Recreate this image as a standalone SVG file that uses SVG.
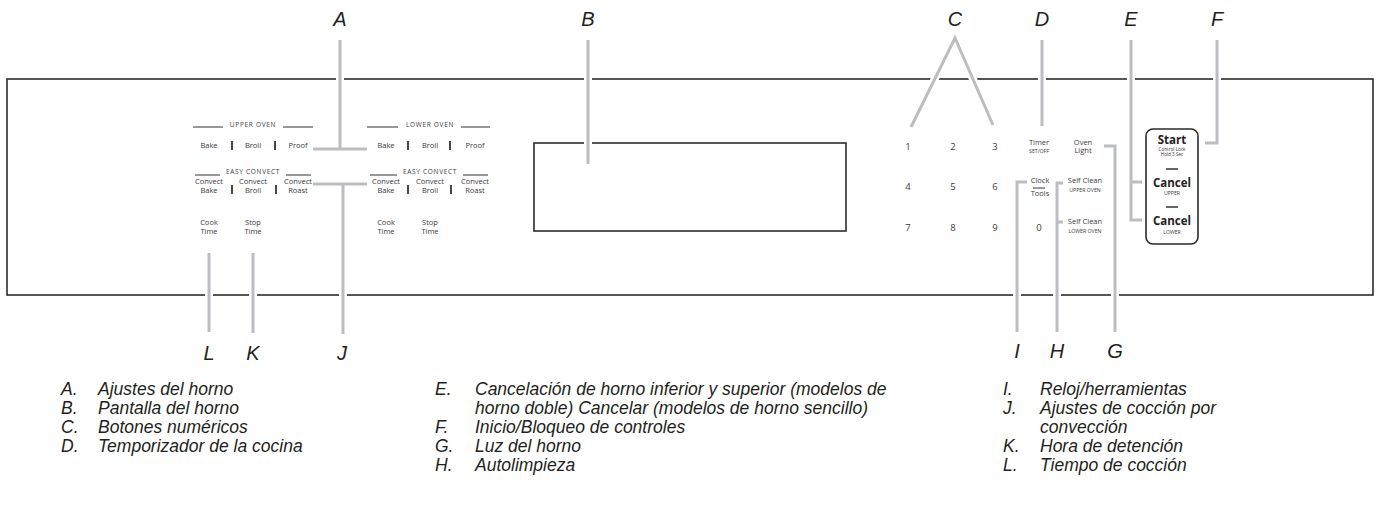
<svg xmlns="http://www.w3.org/2000/svg" width="1377" height="506" viewBox="0 0 1377 506">
<style>
.frame{fill:none;stroke:#2b2b2b;stroke-width:1.6}
.halo{fill:none;stroke:#fff;stroke-width:8;stroke-linecap:butt;stroke-linejoin:miter}
.ld{fill:none;stroke:#bcbdc0;stroke-width:3;stroke-linecap:butt;stroke-linejoin:miter}
.bt{font-family:"Open Sans","Liberation Sans",sans-serif;font-size:7.5px;fill:#3a3a3a;text-anchor:middle}
.hd{font-family:"Open Sans","Liberation Sans",sans-serif;font-size:6.5px;fill:#3a3a3a;text-anchor:middle;letter-spacing:0.7px}
.sm{font-family:"Open Sans","Liberation Sans",sans-serif;font-size:5.2px;fill:#3a3a3a;text-anchor:middle}
.dg{font-family:"Open Sans","Liberation Sans",sans-serif;font-size:9.5px;fill:#3a3a3a;text-anchor:middle}
.bg{font-family:"Open Sans","Liberation Sans",sans-serif;font-size:11.5px;font-weight:bold;fill:#222;text-anchor:middle}
.tn{font-family:"Open Sans","Liberation Sans",sans-serif;font-size:4.6px;fill:#333;text-anchor:middle}
.rule{stroke:#333;stroke-width:1}
.bar{stroke:#333;stroke-width:1.8}
.lbl{font-family:"Liberation Sans",Arial,sans-serif;font-style:italic;font-size:20px;fill:#231f20;text-anchor:middle}
.lg{font-family:"Liberation Sans",Arial,sans-serif;font-style:italic;font-size:17.5px;fill:#231f20}
</style>

<g id="panel">
<rect class="frame" x="7" y="79" width="1366" height="216"/>
</g>
<g id="display">
<rect class="frame" x="534" y="143" width="312" height="88"/>
</g>

<g id="connectors">
<path d="M340,40 V149 M313,149 H367" class="halo"/>
<path d="M340,40 V149 M313,149 H367" class="ld"/>
<path d="M588,40 V164" class="halo"/>
<path d="M588,40 V164" class="ld"/>
<path d="M911,127 L955,38 L993,125" class="halo"/>
<path d="M911,127 L955,38 L993,125" class="ld"/>
<path d="M1042,40 V126" class="halo"/>
<path d="M1042,40 V126" class="ld"/>
<path d="M1131,40 V220 H1142 M1131,182 H1142" class="halo"/>
<path d="M1131,40 V220 H1142 M1131,182 H1142" class="ld"/>
<path d="M1217,40 V143 H1205" class="halo"/>
<path d="M1217,40 V143 H1205" class="ld"/>
<path d="M1104,146 H1115 V332" class="halo"/>
<path d="M1104,146 H1115 V332" class="ld"/>
<path d="M1063,183 H1057 V332 M1057,222 H1063" class="halo"/>
<path d="M1063,183 H1057 V332 M1057,222 H1063" class="ld"/>
<path d="M1027,182 H1017 V332" class="halo"/>
<path d="M1027,182 H1017 V332" class="ld"/>
<path d="M313,184 H367 M343,184 V334" class="halo"/>
<path d="M313,184 H367 M343,184 V334" class="ld"/>
<path d="M253,253 V333" class="halo"/>
<path d="M253,253 V333" class="ld"/>
<path d="M209,253 V332" class="halo"/>
<path d="M209,253 V332" class="ld"/>
</g>

<g id="upper-oven">
<text class="hd" x="253" y="127">UPPER OVEN</text>
<line class="rule" x1="193" y1="127" x2="223" y2="127"/>
<line class="rule" x1="283" y1="127" x2="313" y2="127"/>
<text class="bt" x="209" y="148">Bake</text>
<text class="bt" x="253" y="148">Broil</text>
<text class="bt" x="298" y="148">Proof</text>
<line class="bar" x1="232" y1="141" x2="232" y2="150"/>
<line class="bar" x1="275" y1="141" x2="275" y2="150"/>
<text class="hd" x="253" y="174">EASY CONVECT</text>
<line class="rule" x1="195" y1="175" x2="220" y2="175"/>
<line class="rule" x1="286" y1="175" x2="311" y2="175"/>
<text class="bt" x="209" y="184">Convect</text><text class="bt" x="209" y="193">Bake</text>
<text class="bt" x="253" y="184">Convect</text><text class="bt" x="253" y="193">Broil</text>
<text class="bt" x="298" y="184">Convect</text><text class="bt" x="298" y="193">Roast</text>
<line class="bar" x1="232" y1="185" x2="232" y2="194"/>
<line class="bar" x1="276" y1="185" x2="276" y2="194"/>
<text class="bt" x="209" y="225">Cook</text><text class="bt" x="209" y="234">Time</text>
<text class="bt" x="253" y="225">Stop</text><text class="bt" x="253" y="234">Time</text>
</g>

<g id="lower-oven">
<text class="hd" x="430" y="127">LOWER OVEN</text>
<line class="rule" x1="367" y1="127" x2="398" y2="127"/>
<line class="rule" x1="461" y1="127" x2="490" y2="127"/>
<text class="bt" x="386" y="148">Bake</text>
<text class="bt" x="430" y="148">Broil</text>
<text class="bt" x="475" y="148">Proof</text>
<line class="bar" x1="408" y1="141" x2="408" y2="150"/>
<line class="bar" x1="450" y1="141" x2="450" y2="150"/>
<text class="hd" x="430" y="174">EASY CONVECT</text>
<line class="rule" x1="370" y1="175" x2="397" y2="175"/>
<line class="rule" x1="463" y1="175" x2="488" y2="175"/>
<text class="bt" x="386" y="184">Convect</text><text class="bt" x="386" y="193">Bake</text>
<text class="bt" x="430" y="184">Convect</text><text class="bt" x="430" y="193">Broil</text>
<text class="bt" x="475" y="184">Convect</text><text class="bt" x="475" y="193">Roast</text>
<line class="bar" x1="408" y1="185" x2="408" y2="194"/>
<line class="bar" x1="451" y1="185" x2="451" y2="194"/>
<text class="bt" x="386" y="225">Cook</text><text class="bt" x="386" y="234">Time</text>
<text class="bt" x="430" y="225">Stop</text><text class="bt" x="430" y="234">Time</text>
</g>

<g id="keypad">
<text class="dg" x="908" y="150">1</text>
<text class="dg" x="953" y="150">2</text>
<text class="dg" x="995" y="150">3</text>
<text class="dg" x="908" y="190">4</text>
<text class="dg" x="953" y="190">5</text>
<text class="dg" x="995" y="190">6</text>
<text class="dg" x="908" y="231">7</text>
<text class="dg" x="953" y="231">8</text>
<text class="dg" x="995" y="231">9</text>
<text class="dg" x="1039" y="231">0</text>
</g>

<g id="timer">
<text class="bt" x="1039" y="145">Timer</text>
<text class="sm" x="1039" y="153">SET/OFF</text>
</g>
<g id="oven-light">
<text class="bt" x="1083" y="145">Oven</text>
<text class="bt" x="1083" y="153">Light</text>
</g>
<g id="clock-tools">
<text class="bt" x="1040" y="183">Clock</text>
<line class="rule" x1="1033" y1="188" x2="1045" y2="188"/>
<text class="bt" x="1040" y="196">Tools</text>
</g>
<g id="self-clean-upper">
<text class="bt" x="1085" y="183">Self Clean</text>
<text class="sm" x="1085" y="192">UPPER OVEN</text>
</g>
<g id="self-clean-lower">
<text class="bt" x="1085" y="224">Self Clean</text>
<text class="sm" x="1085" y="233">LOWER OVEN</text>
</g>

<g id="start-cancel">
<rect class="frame" x="1146" y="129" width="52" height="115" rx="7"/>
<text class="bg" x="1172" y="144">Start</text>
<text class="tn" x="1172" y="151">Control Lock</text>
<text class="tn" x="1172" y="156">Hold 3 Sec</text>
<line class="bar" x1="1166" y1="169" x2="1178" y2="169" style="stroke-width:1.5"/>
<text class="bg" x="1172" y="187">Cancel</text>
<text class="sm" x="1172" y="195">UPPER</text>
<line class="bar" x1="1166" y1="207" x2="1178" y2="207" style="stroke-width:1.5"/>
<text class="bg" x="1172" y="225">Cancel</text>
<text class="sm" x="1172" y="234">LOWER</text>
</g>

<g id="labels">
<text class="lbl" x="340" y="26">A</text>
<text class="lbl" x="588" y="26">B</text>
<text class="lbl" x="955" y="26">C</text>
<text class="lbl" x="1042" y="26">D</text>
<text class="lbl" x="1131" y="26">E</text>
<text class="lbl" x="1217" y="26">F</text>
<text class="lbl" x="209" y="360">L</text>
<text class="lbl" x="253" y="360">K</text>
<text class="lbl" x="342" y="360">J</text>
<text class="lbl" x="1017" y="358">I</text>
<text class="lbl" x="1057" y="358">H</text>
<text class="lbl" x="1115" y="358">G</text>
</g>

<g id="legend">
<text class="lg" x="61" y="395">A.</text><text class="lg" x="98" y="395">Ajustes del horno</text>
<text class="lg" x="61" y="414">B.</text><text class="lg" x="98" y="414">Pantalla del horno</text>
<text class="lg" x="61" y="433">C.</text><text class="lg" x="98" y="433">Botones numéricos</text>
<text class="lg" x="61" y="452">D.</text><text class="lg" x="98" y="452">Temporizador de la cocina</text>
<text class="lg" x="435" y="395">E.</text><text class="lg" x="475" y="395">Cancelación de horno inferior y superior (modelos de</text>
<text class="lg" x="475" y="414">horno doble) Cancelar (modelos de horno sencillo)</text>
<text class="lg" x="435" y="433">F.</text><text class="lg" x="475" y="433">Inicio/Bloqueo de controles</text>
<text class="lg" x="435" y="452">G.</text><text class="lg" x="475" y="452">Luz del horno</text>
<text class="lg" x="435" y="471">H.</text><text class="lg" x="475" y="471">Autolimpieza</text>
<text class="lg" x="1003" y="395">I.</text><text class="lg" x="1040" y="395">Reloj/herramientas</text>
<text class="lg" x="1003" y="414">J.</text><text class="lg" x="1040" y="414">Ajustes de cocción por</text>
<text class="lg" x="1040" y="433">convección</text>
<text class="lg" x="1003" y="452">K.</text><text class="lg" x="1040" y="452">Hora de detención</text>
<text class="lg" x="1003" y="471">L.</text><text class="lg" x="1040" y="471">Tiempo de cocción</text>
</g>
</svg>
